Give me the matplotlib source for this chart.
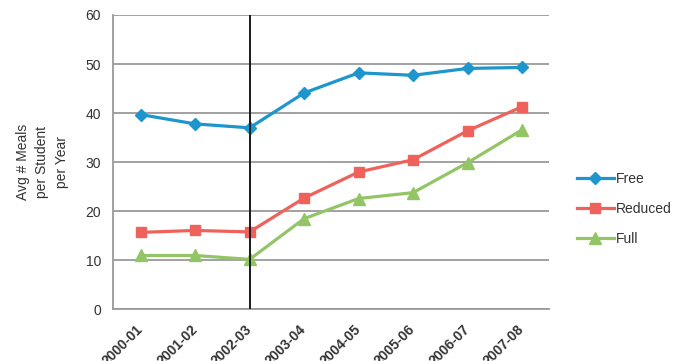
import matplotlib

matplotlib.use("Agg")
import matplotlib.pyplot as plt

# school years on the x axis
years = ["2000-01", "2001-02", "2002-03", "2003-04",
         "2004-05", "2005-06", "2006-07", "2007-08"]

# average meals per student per year, by eligibility
free = [39.7, 37.8, 37.0, 44.1, 48.2, 47.7, 49.1, 49.3]
reduced = [15.7, 16.1, 15.8, 22.7, 28.0, 30.5, 36.4, 41.3]
full = [11.0, 11.0, 10.2, 18.5, 22.6, 23.8, 29.9, 36.6]

# year where the black marker line sits
marker_year = "2002-03"

plt.rcParams["font.family"] = ["Liberation Sans", "DejaVu Sans"]
txt = "#333333"

fig = plt.figure(figsize=(6.79, 3.61), dpi=100)
ax = fig.add_axes([0.167, 0.1427, 0.642, 0.816])

x = list(range(len(years)))
ax.plot(x, free, color="#1C96CC", lw=2.3, marker="D", ms=6.5, label="Free", zorder=4)
ax.plot(x, reduced, color="#EF625B", lw=2.3, marker="s", ms=7.5, label="Reduced", zorder=4)
ax.plot(x, full, color="#93C567", lw=2.3, marker="^", ms=8, label="Full", zorder=4)

ax.axvline(years.index(marker_year), color="#1a1a1a", lw=1.4, zorder=5)

ax.set_xlim(-0.5, len(years) - 0.5)
ax.set_ylim(0, 60)
ax.set_yticks(range(0, 61, 10))
ax.set_xticks(x)
ax.set_xticklabels(years, rotation=45, ha="right", va="center",
                   rotation_mode="anchor", fontsize=10, fontweight="bold")
ax.tick_params(axis="y", labelsize=10, length=0, pad=9, colors=txt)
ax.tick_params(axis="x", length=0, pad=13, colors=txt)

ax.grid(axis="y", color="#9a9a9a", lw=1.3)
ax.set_axisbelow(True)
for side in ("top", "right"):
    ax.spines[side].set_visible(False)
for side in ("left", "bottom"):
    ax.spines[side].set_color("#9a9a9a")
    ax.spines[side].set_linewidth(1.3)

ax.set_ylabel("Avg # Meals\nper Student\nper Year", fontsize=10,
              color=txt, linespacing=1.5, labelpad=12)
ax.yaxis.label.set_multialignment("center")

ax.legend(loc="center left", bbox_to_anchor=(1.05, 0.34), frameon=False,
          fontsize=10, handlelength=2.7, handletextpad=0.15,
          labelspacing=1.15, borderaxespad=0, labelcolor=txt)

fig.savefig("out.png", dpi=100)
